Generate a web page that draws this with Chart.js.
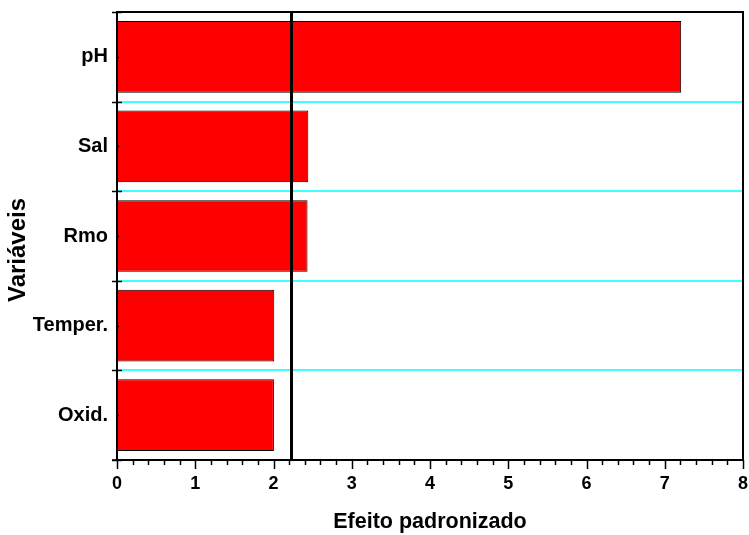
<!DOCTYPE html>
<html>
<head>
<meta charset="utf-8">
<script src="https://cdn.jsdelivr.net/npm/chart.js@4"></script>
<style>
  html, body { margin: 0; padding: 0; background: #fff; }
  #wrap { width: 749px; height: 535px; }
</style>
</head>
<body>
<div id="wrap"><canvas id="c" width="749" height="535"></canvas></div>
<script>
// Standardized effects (Pareto-style chart)
const categories = ['pH', 'Sal', 'Rmo', 'Temper.', 'Oxid.'];
const effects = [7.21, 2.445, 2.435, 2.01, 2.005];
const xTicks = [0, 1, 2, 3, 4, 5, 6, 7, 8];
const criticalValue = 2.228;
const yTitle = 'Variáveis';

const FONT = 'Liberation Sans, Arial, sans-serif';

// Cyan separators between the categories, drawn under the bars
const separators = {
  id: 'separators',
  beforeDatasetsDraw(chart) {
    const ctx = chart.ctx;
    const a = chart.chartArea;
    const n = categories.length;
    const step = (a.bottom - a.top) / n;
    ctx.save();
    ctx.strokeStyle = '#00FFFF';
    ctx.lineWidth = 1.6;
    for (let i = 1; i < n; i++) {
      const py = Math.round(a.top + i * step);
      ctx.beginPath();
      ctx.moveTo(a.left, py);
      ctx.lineTo(a.right, py);
      ctx.stroke();
    }
    ctx.restore();
  }
};

// Frame, tick marks, reference line and the vertical axis title
const decorations = {
  id: 'decorations',
  afterDatasetsDraw(chart) {
    const ctx = chart.ctx;
    const a = chart.chartArea;
    const xs = chart.scales.x;
    const ys = chart.scales.y;
    ctx.save();
    ctx.strokeStyle = '#000';

    // reference line at the critical value
    const xc = Math.round(xs.getPixelForValue(criticalValue)) + 0.5;
    ctx.lineWidth = 3;
    ctx.beginPath();
    ctx.moveTo(xc, a.top);
    ctx.lineTo(xc, a.bottom);
    ctx.stroke();

    // frame
    ctx.lineWidth = 2;
    ctx.beginPath();
    ctx.moveTo(a.left, a.top);
    ctx.lineTo(a.right, a.top);
    ctx.lineTo(a.right, a.bottom);
    ctx.lineTo(a.left, a.bottom);
    ctx.closePath();
    ctx.stroke();

    // x axis major and minor ticks
    ctx.lineWidth = 1.5;
    for (let i = 0; i <= 40; i++) {
      const v = i * 0.2;
      const px = Math.round(xs.getPixelForValue(v)) + 0.5;
      const len = (i % 5 === 0) ? 9 : 5;
      ctx.beginPath();
      ctx.moveTo(px, a.bottom);
      ctx.lineTo(px, a.bottom + len);
      ctx.stroke();
    }
    ctx.beginPath();
    ctx.moveTo(a.left - 5, a.bottom);
    ctx.lineTo(a.left, a.bottom);
    ctx.stroke();

    // y axis ticks at category boundaries and small ones at centers
    const n = categories.length;
    const step = (a.bottom - a.top) / n;
    for (let i = 0; i <= n; i++) {
      const py = Math.round(a.top + i * step) + 0.5;
      ctx.beginPath();
      ctx.moveTo(a.left - 5, py);
      ctx.lineTo(a.left + 5, py);
      ctx.stroke();
    }
    for (let i = 0; i < n; i++) {
      const py = Math.round(ys.getPixelForValue(i)) + 0.5;
      ctx.beginPath();
      ctx.moveTo(a.left, py);
      ctx.lineTo(a.left + 2, py);
      ctx.stroke();
    }

    // vertical axis title
    ctx.translate(18, (a.top + a.bottom) / 2 + 14);
    ctx.rotate(-Math.PI / 2);
    ctx.fillStyle = '#000';
    ctx.font = 'bold 24px ' + FONT;
    ctx.textAlign = 'center';
    ctx.textBaseline = 'middle';
    ctx.fillText(yTitle, 0, 0);
    ctx.restore();
  }
};

function noScalePadding(scale) {
  scale.paddingTop = 0;
  scale.paddingBottom = 0;
  scale.paddingLeft = 0;
  scale.paddingRight = 0;
}

new Chart(document.getElementById('c'), {
  type: 'bar',
  data: {
    labels: categories,
    datasets: [{
      data: effects,
      backgroundColor: '#FF0000',
      borderColor: '#000000',
      borderWidth: 1,
      borderSkipped: false,
      barPercentage: 0.8,
      categoryPercentage: 1.0
    }]
  },
  options: {
    indexAxis: 'y',
    responsive: false,
    animation: false,
    devicePixelRatio: 1,
    layout: { padding: { top: 12, right: 6, left: 0, bottom: 0 } },
    plugins: {
      legend: { display: false },
      tooltip: { enabled: false }
    },
    scales: {
      x: {
        type: 'linear',
        min: 0,
        max: 8,
        afterBuildTicks(scale) { scale.ticks = xTicks.map(v => ({ value: v })); },
        afterFit(scale) { scale.height = 75; noScalePadding(scale); },
        grid: { display: false, drawTicks: false },
        border: { display: false },
        ticks: {
          color: '#000',
          padding: 13,
          font: { family: FONT, size: 18, weight: 'bold' }
        },
        title: {
          display: true,
          text: 'Efeito padronizado',
          color: '#000',
          padding: { top: 13, bottom: 0 },
          font: { family: FONT, size: 21.5, weight: 'bold' }
        }
      },
      y: {
        afterFit(scale) { scale.width = 117; noScalePadding(scale); },
        grid: { display: false, drawTicks: false },
        border: { display: true, color: '#000', width: 2 },
        ticks: {
          color: '#000',
          padding: 9,
          font: { family: FONT, size: 20, weight: 'bold' }
        },
        title: { display: false }
      }
    }
  },
  plugins: [separators, decorations]
});
</script>
</body>
</html>
